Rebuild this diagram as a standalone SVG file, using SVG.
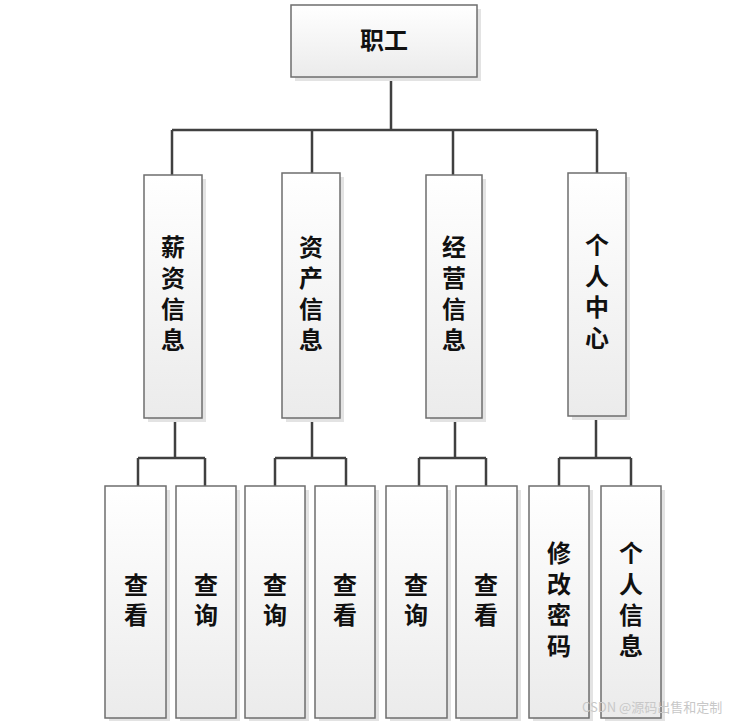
<svg xmlns="http://www.w3.org/2000/svg" width="735" height="721" viewBox="0 0 735 721">
<defs>
<linearGradient id="g" x1="0" y1="0" x2="0" y2="1">
<stop offset="0" stop-color="#ffffff"/>
<stop offset="1" stop-color="#ebebeb"/>
</linearGradient>
<style>
.sh{fill:#e3e3e3;}
.bx{fill:url(#g);stroke:#6e6e6e;stroke-width:1.5;}
.t{font-family:"Noto Sans CJK SC","Noto Sans",sans-serif;font-weight:bold;font-size:24px;fill:#111;text-anchor:middle;}
.v{font-family:"Noto Sans CJK SC","Noto Sans",sans-serif;font-weight:bold;font-size:24px;fill:#111;writing-mode:vertical-rl;text-orientation:upright;letter-spacing:7px;}
.c{fill:none;stroke:#404040;stroke-width:2.5;}
.wm{font-family:"Noto Sans CJK SC","Liberation Sans",sans-serif;font-size:13px;fill:#c8c8c8;}
</style>
</defs>
<rect width="735" height="721" fill="#fff"/>
<g id="connectors">
<path class="c" d="M391 77V130M172 130H597M172 130V175M312 130V173M453 130V175M597 130V173"/>
<path class="c" d="M175 418V458M138 458H205M138 458V486M205 458V486"/>
<path class="c" d="M312 418V458M275 458H346M275 458V486M346 458V486"/>
<path class="c" d="M455 418V458M419 458H486M419 458V486M486 458V486"/>
<path class="c" d="M596 416V458M559 458H631M559 458V486M631 458V486"/>
</g>
<g id="n-root"><rect class="sh" x="295" y="9" width="186" height="72"/><rect class="bx" x="291" y="5" width="186" height="72"/><text class="t" x="384" y="49">职工</text></g>
<g id="n-salary"><rect class="sh" x="148" y="179" width="58" height="243"/><rect class="bx" x="144" y="175" width="58" height="243"/><text class="v" x="173" y="235">薪资信息</text></g>
<g id="n-asset"><rect class="sh" x="286" y="177" width="58" height="245"/><rect class="bx" x="282" y="173" width="58" height="245"/><text class="v" x="311" y="235">资产信息</text></g>
<g id="n-biz"><rect class="sh" x="430" y="179" width="56" height="243"/><rect class="bx" x="426" y="175" width="56" height="243"/><text class="v" x="454" y="235">经营信息</text></g>
<g id="n-center"><rect class="sh" x="572" y="177" width="58" height="243"/><rect class="bx" x="568" y="173" width="58" height="243"/><text class="v" x="597" y="233">个人中心</text></g>
<g id="n-b1"><rect class="sh" x="109" y="490" width="61" height="232"/><rect class="bx" x="105" y="486" width="61" height="232"/><text class="v" x="136" y="573" style="letter-spacing:6px">查看</text></g>
<g id="n-b2"><rect class="sh" x="180" y="490" width="60" height="232"/><rect class="bx" x="176" y="486" width="60" height="232"/><text class="v" x="206" y="573" style="letter-spacing:6px">查询</text></g>
<g id="n-b3"><rect class="sh" x="249" y="490" width="60" height="232"/><rect class="bx" x="245" y="486" width="60" height="232"/><text class="v" x="275" y="573" style="letter-spacing:6px">查询</text></g>
<g id="n-b4"><rect class="sh" x="319" y="490" width="60" height="232"/><rect class="bx" x="315" y="486" width="60" height="232"/><text class="v" x="345" y="573" style="letter-spacing:6px">查看</text></g>
<g id="n-b5"><rect class="sh" x="390" y="490" width="61" height="232"/><rect class="bx" x="386" y="486" width="61" height="232"/><text class="v" x="416" y="573" style="letter-spacing:6px">查询</text></g>
<g id="n-b6"><rect class="sh" x="460" y="490" width="61" height="232"/><rect class="bx" x="456" y="486" width="61" height="232"/><text class="v" x="486" y="573" style="letter-spacing:6px">查看</text></g>
<g id="n-b7"><rect class="sh" x="533" y="490" width="60" height="232"/><rect class="bx" x="529" y="486" width="60" height="232"/><text class="v" x="559" y="541">修改密码</text></g>
<g id="n-b8"><rect class="sh" x="605" y="490" width="60" height="232"/><rect class="bx" x="601" y="486" width="60" height="232"/><text class="v" x="631" y="541">个人信息</text></g>
<text class="wm" x="582" y="712">CSDN @源码出售和定制</text>
</svg>
